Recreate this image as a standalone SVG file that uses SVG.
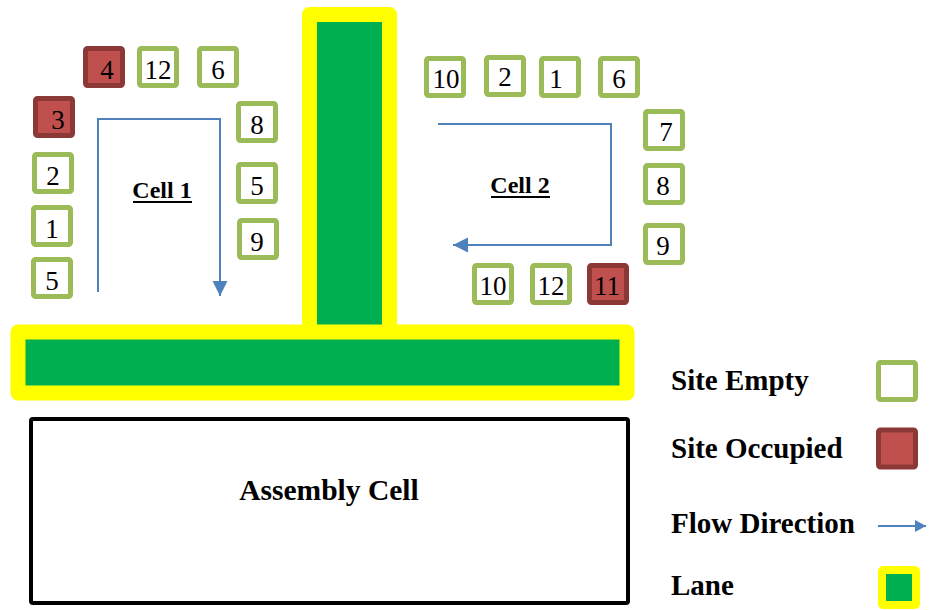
<svg xmlns="http://www.w3.org/2000/svg" width="929" height="610" viewBox="0 0 929 610">
<style>
.empty{fill:#fff;stroke:#9BBB59;stroke-width:5}
.occ{fill:#C0504D;stroke:#8C3836;stroke-width:5}
text{font-family:'Liberation Serif','Times New Roman',serif;fill:#000}
.num{font-size:27px;text-anchor:middle}
.bold{font-weight:bold}
.lane{fill:#00B050;stroke:#FFFF00;stroke-width:15;stroke-linejoin:round}
.flow{fill:none;stroke:#4F81BD;stroke-width:2}
</style>
<defs>
<marker id="ah" markerUnits="userSpaceOnUse" markerWidth="16" markerHeight="16" viewBox="0 0 16 16" refX="15" refY="8" orient="auto">
<path d="M0,0.5 L15,8 L0,15.5 Z" fill="#4F81BD"/>
</marker>
<marker id="ahs" markerUnits="userSpaceOnUse" markerWidth="12" markerHeight="14" viewBox="0 0 12 14" refX="11" refY="7" orient="auto">
<path d="M0,1 L11,7 L0,13 Z" fill="#4F81BD"/>
</marker>
</defs>

<g id="lanes">
<rect id="lane-v" class="lane" x="309.5" y="14.5" width="80" height="318"/>
<rect id="lane-h" class="lane" x="18" y="332" width="609" height="61"/>
</g>

<g id="assembly">
<rect x="31" y="419" width="597" height="184" rx="2" fill="#fff" stroke="#000" stroke-width="4"/>
<text class="bold" x="329" y="500" font-size="29.5" text-anchor="middle">Assembly Cell</text>
</g>

<g id="connectors">
<path class="flow" d="M98,292 V119 H220 V296" marker-end="url(#ah)"/>
<path class="flow" d="M438,124 H611 V245 H453" marker-end="url(#ah)"/>
</g>

<g id="cell1-label">
<text class="bold" x="162" y="198" font-size="24" text-anchor="middle">Cell 1</text>
<rect x="133" y="201" width="59" height="2" fill="#000"/>
</g>
<g id="cell2-label">
<text class="bold" x="520" y="193" font-size="24" text-anchor="middle">Cell 2</text>
<rect x="491" y="196" width="59" height="2" fill="#000"/>
</g>

<g id="c1-4"><rect class="occ" x="85.5" y="48.5" width="37" height="37" rx="2"/><text class="num" x="107" y="79">4</text></g>
<g id="c1-12"><rect class="empty" x="139.5" y="48.5" width="37" height="37" rx="2"/><text class="num" x="158" y="79">12</text></g>
<g id="c1-6"><rect class="empty" x="199.5" y="48.5" width="37" height="37" rx="2"/><text class="num" x="218" y="79">6</text></g>
<g id="c1-3"><rect class="occ" x="35.5" y="98.5" width="37" height="37" rx="2"/><text class="num" x="58" y="129">3</text></g>
<g id="c1-8"><rect class="empty" x="238.5" y="103.5" width="37" height="37" rx="2"/><text class="num" x="257" y="134">8</text></g>
<g id="c1-2"><rect class="empty" x="34.5" y="154.5" width="37" height="37" rx="2"/><text class="num" x="53" y="185">2</text></g>
<g id="c1-5r"><rect class="empty" x="238.5" y="164.5" width="37" height="37" rx="2"/><text class="num" x="257" y="195">5</text></g>
<g id="c1-1"><rect class="empty" x="33.5" y="207.5" width="37" height="37" rx="2"/><text class="num" x="52" y="238">1</text></g>
<g id="c1-9"><rect class="empty" x="239.5" y="220.5" width="37" height="37" rx="2"/><text class="num" x="257" y="251">9</text></g>
<g id="c1-5l"><rect class="empty" x="33.5" y="259.5" width="37" height="37" rx="2"/><text class="num" x="52" y="290">5</text></g>

<g id="c2-10t"><rect class="empty" x="426.5" y="58.5" width="37" height="37" rx="2"/><text class="num" x="446" y="88">10</text></g>
<g id="c2-2"><rect class="empty" x="486.5" y="57.5" width="37" height="37" rx="2"/><text class="num" x="505" y="86">2</text></g>
<g id="c2-1"><rect class="empty" x="541.5" y="58.5" width="37" height="37" rx="2"/><text class="num" x="556" y="88">1</text></g>
<g id="c2-6"><rect class="empty" x="600.5" y="58.5" width="37" height="37" rx="2"/><text class="num" x="619" y="88">6</text></g>
<g id="c2-7"><rect class="empty" x="645.5" y="111.5" width="37" height="37" rx="2"/><text class="num" x="666" y="141">7</text></g>
<g id="c2-8"><rect class="empty" x="645.5" y="165.5" width="37" height="37" rx="2"/><text class="num" x="663" y="195">8</text></g>
<g id="c2-9"><rect class="empty" x="645.5" y="225.5" width="37" height="37" rx="2"/><text class="num" x="663" y="255">9</text></g>
<g id="c2-10b"><rect class="empty" x="474.5" y="265.5" width="37" height="37" rx="2"/><text class="num" x="493" y="295">10</text></g>
<g id="c2-12"><rect class="empty" x="532.5" y="265.5" width="37" height="37" rx="2"/><text class="num" x="551" y="295">12</text></g>
<g id="c2-11"><rect class="occ" x="589.5" y="265.5" width="37" height="37" rx="2"/><text class="num" x="607" y="295">11</text></g>

<g id="legend-empty"><text class="bold" x="671" y="390" font-size="29">Site Empty</text><rect class="empty" x="878.5" y="362.5" width="37" height="37" rx="2"/></g>
<g id="legend-occupied"><text class="bold" x="671" y="458" font-size="29">Site Occupied</text><rect class="occ" x="878.5" y="430" width="37" height="37" rx="2"/></g>
<g id="legend-flow"><text class="bold" x="671" y="533" font-size="29">Flow Direction</text><path class="flow" d="M878,526 H926" marker-end="url(#ahs)"/></g>
<g id="legend-lane"><text class="bold" x="671" y="595" font-size="29">Lane</text><rect x="882" y="570" width="34" height="35" rx="1" fill="#00B050" stroke="#FFFF00" stroke-width="8" stroke-linejoin="round"/></g>
</svg>
